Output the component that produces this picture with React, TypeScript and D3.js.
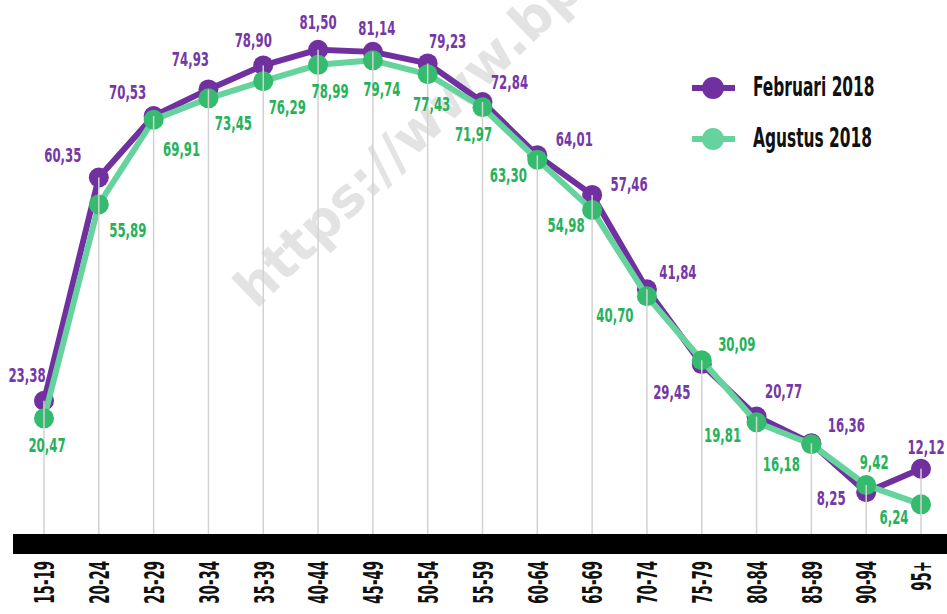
import React from "react";
import * as d3 from "d3";

const categories = ["15-19","20-24","25-29","30-34","35-39","40-44","45-49","50-54","55-59","60-64","65-69","70-74","75-79","80-84","85-89","90-94","95+"];
const februari = [23.38,60.35,70.53,74.93,78.90,81.50,81.14,79.23,72.84,64.01,57.46,41.84,29.45,20.77,16.36,8.25,12.12];
const agustus = [20.47,55.89,69.91,73.45,76.29,78.99,79.74,77.43,71.97,63.30,54.98,40.70,30.09,19.81,16.18,9.42,6.24];
const seriesNames = ["Februari 2018", "Agustus 2018"];

// label placement offsets (dx, dy) relative to each point
const febLabelOffsets: [number, number][] = [[-17,-25],[-36,-22],[-26,-23],[-18,-30],[-10,-25],[0,-27],[4,-23],[20,-22],[27,-19],[37,-16],[37,-10],[31,-17],[-30,28],[27,-25],[35,-18],[-35,6],[5,-21]];
const augLabelOffsets: [number, number][] = [[3,27],[29,26],[28,30],[25,25],[24,26],[12,27],[9,29],[4,30],[-9,27],[-29,16],[-26,16],[-32,19],[35,-16],[-34,13],[-30,20],[8,-23],[-27,13]];

const W = 947, H = 614;
const FONT = "'DejaVu Sans Condensed', 'DejaVu Sans', sans-serif";
const PURPLE = "#7030a0";
const PURPLE_TXT = "#7538a6";
const GREEN_LINE = "#66d39e";
const GREEN_DOT = "#34bb6d";
const GREEN_TXT = "#25b25a";

const fmt = (v: number) => v.toFixed(2).replace(".", ",");

export default function App() {
  const x = d3.scalePoint<string>().domain(categories).range([44, 921]);
  const y = d3.scaleLinear().domain([0, 81.5]).range([542, 49.7]);
  const line = d3.line<number>().x((_, i) => x(categories[i])!).y((d) => y(d));

  const label = (txt: string, cx: number, cy: number, color: string, key: string) => (
    <g key={key} transform={`translate(${cx},${cy}) scale(0.67,1)`}>
      <text textAnchor="middle" dominantBaseline="central" fontFamily={FONT} fontWeight="bold" fontSize={19.5} fill={color} style={{ fontStretch: "condensed" }}>{txt}</text>
    </g>
  );

  return (
    <svg width={W} height={H} style={{ position: "absolute", left: 0, top: 0, background: "#fff" }}>
      {/* watermark */}
      <text x={256} y={310} transform="rotate(-44 256 310)" fontFamily="'DejaVu Sans', sans-serif" fontWeight="bold" fontSize={53} fill="#e3e3e3">https://www.bps.go.id</text>

      {/* purple series */}
      <path d={line(februari)!} fill="none" stroke={PURPLE} strokeWidth={6} strokeLinejoin="round" />
      {februari.map((v, i) => (
        <circle key={"fp" + i} cx={x(categories[i])} cy={y(v)} r={10} fill={PURPLE} />
      ))}
      {/* green series */}
      <path d={line(agustus)!} fill="none" stroke={GREEN_LINE} strokeWidth={6} strokeLinejoin="round" />
      {agustus.map((v, i) => (
        <circle key={"ap" + i} cx={x(categories[i])} cy={y(v)} r={10} fill={GREEN_DOT} />
      ))}

      {/* drop lines */}
      {categories.map((c, i) => (
        <line key={"g" + c} x1={x(c)} x2={x(c)} y1={Math.min(y(februari[i]), y(agustus[i]))} y2={y(0) - 8} stroke="#d2d2d2" strokeWidth={1.5} />
      ))}

      {/* baseline bar */}
      <rect x={13} y={y(0) - 8} width={W - 13} height={20} fill="#000" />

      {/* value labels */}
      {februari.map((v, i) => label(fmt(v), x(categories[i])! + febLabelOffsets[i][0], y(v) + febLabelOffsets[i][1], PURPLE_TXT, "fl" + i))}
      {agustus.map((v, i) => label(fmt(v), x(categories[i])! + augLabelOffsets[i][0], y(v) + augLabelOffsets[i][1], GREEN_TXT, "al" + i))}

      {/* category labels */}
      {categories.map((c) => (
        <g key={"c" + c} transform={`translate(${x(c)! + 1},561) rotate(-90) scale(0.55,1)`}>
          <text textAnchor="end" dominantBaseline="central" fontFamily={FONT} fontWeight="bold" fontSize={27} fill="#111" style={{ fontStretch: "condensed" }}>{c}</text>
        </g>
      ))}

      {/* legend */}
      {[PURPLE, GREEN_LINE].map((col, k) => {
        const ly = 88 + k * 51;
        return (
          <g key={"lg" + k}>
            <line x1={692} x2={735} y1={ly} y2={ly} stroke={col} strokeWidth={6} />
            <circle cx={713} cy={ly} r={11} fill={col} />
            <g transform={`translate(753,${ly + 8}) scale(0.66,1)`}>
              <text fontFamily={FONT} fontWeight="bold" fontSize={26} fill="#111" style={{ fontStretch: "condensed" }}>{seriesNames[k]}</text>
            </g>
          </g>
        );
      })}
    </svg>
  );
}
